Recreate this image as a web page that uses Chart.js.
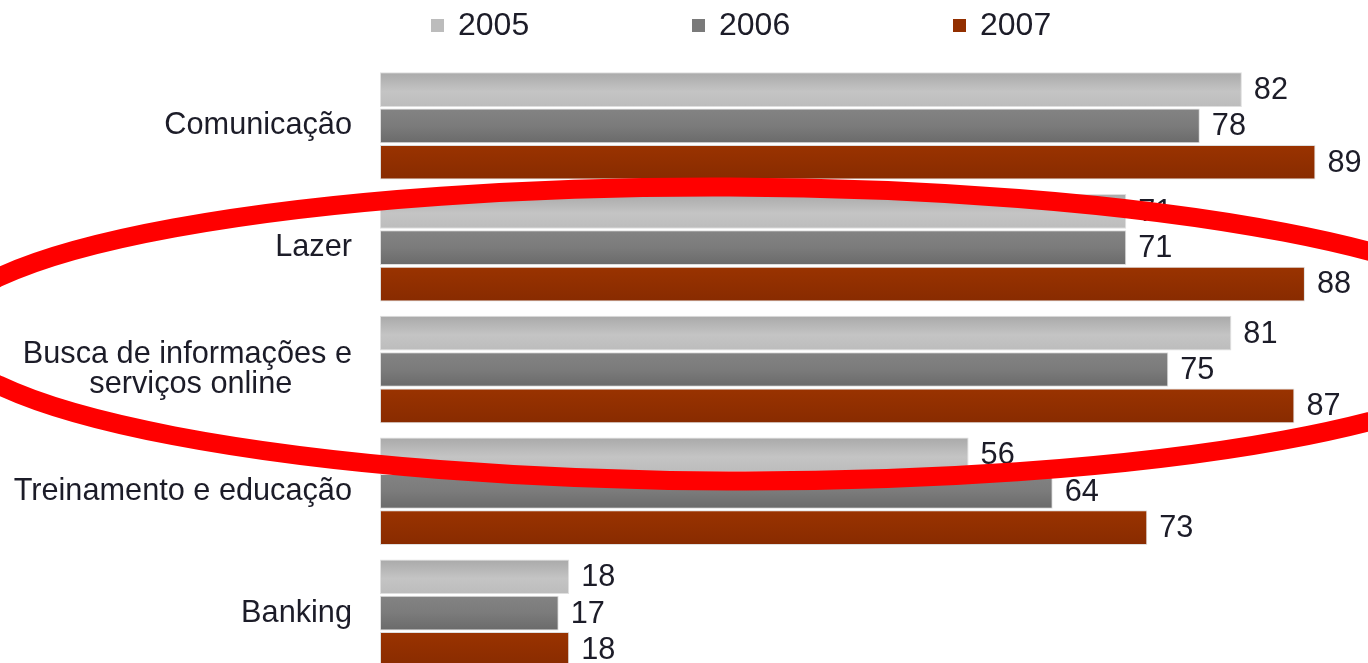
<!DOCTYPE html>
<html><head><meta charset="utf-8">
<style>html,body{margin:0;padding:0;background:#fff;overflow:hidden}canvas{display:block}</style>
<script src="https://cdn.jsdelivr.net/npm/chart.js@4.4.1/dist/chart.umd.min.js"></script>
</head><body><canvas id="c" width="1368" height="718" style="width:1368px;height:718px"></canvas>
<script>
const categories = ['Comunicação', 'Lazer', ['Busca de informações e', 'serviços online       '], 'Treinamento e educação', 'Banking'];
const seriesNames = ['2005', '2006', '2007'];
const values2005 = [82, 71, 81, 56, 18];
const values2006 = [78, 71, 75, 64, 17];
const values2007 = [89, 88, 87, 73, 18];

const FONT = '"Liberation Sans", Arial, Helvetica, sans-serif';
const baseColors = ['#bcbcbc', '#7a7a7a', '#922f00'];
const gradientStops = [
  [[0, '#a9a9a9'], [0.55, '#c4c4c4'], [1, '#bcbcbc']],
  [[0, '#838383'], [0.5, '#7b7b7b'], [1, '#6a6a6a']],
  [[0, '#9a3300'], [1, '#882b00']]
];
const CAT_PCT = 0.895, BAR_PCT = 0.955;

function barFill(ctx) {
  const i = ctx.datasetIndex;
  if (ctx.type !== 'data') return baseColors[i];
  const y = ctx.chart.scales && ctx.chart.scales.y;
  if (!y) return baseColors[i];
  const band = Math.abs(y.getPixelForValue(1) - y.getPixelForValue(0));
  const slot = band * CAT_PCT / 3;
  const thick = slot * BAR_PCT;
  const c = y.getPixelForValue(ctx.dataIndex) + (i - 1) * slot;
  if (!isFinite(c) || !isFinite(thick) || thick <= 0) return baseColors[i];
  const g = ctx.chart.ctx.createLinearGradient(0, c - thick / 2, 0, c + thick / 2);
  gradientStops[i].forEach(s => g.addColorStop(s[0], s[1]));
  return g;
}

const valueLabels = {
  id: 'valueLabels',
  afterDatasetsDraw(chart) {
    const ctx = chart.ctx;
    ctx.save();
    ctx.font = '30.7px ' + FONT;
    ctx.fillStyle = '#1c1c28';
    ctx.textAlign = 'left';
    ctx.textBaseline = 'middle';
    chart.data.datasets.forEach((ds, i) => {
      chart.getDatasetMeta(i).data.forEach((bar, j) => {
        ctx.fillText(String(ds.data[j]), bar.x + 12, bar.y + 1);
      });
    });
    ctx.restore();
  }
};

const topLegend = {
  id: 'topLegend',
  afterDraw(chart) {
    const ctx = chart.ctx;
    ctx.save();
    ctx.font = '32px ' + FONT;
    ctx.textAlign = 'left';
    ctx.textBaseline = 'middle';
    chart.data.datasets.forEach((ds, i) => {
      const x = 431 + i * 261;
      ctx.fillStyle = baseColors[i];
      ctx.fillRect(x, 19, 13, 13);
      ctx.fillStyle = '#1c1c28';
      ctx.fillText(ds.label, x + 27, 26);
    });
    ctx.restore();
  }
};

const redEllipse = {
  id: 'redEllipse',
  afterDraw(chart) {
    const ctx = chart.ctx;
    ctx.save();
    ctx.beginPath();
    ctx.ellipse(729, 334, 785, 147, 0.004, 0, Math.PI * 2);
    ctx.lineWidth = 19;
    ctx.strokeStyle = '#ff0000';
    ctx.stroke();
    ctx.restore();
  }
};

const seriesValues = [values2005, values2006, values2007];

new Chart(document.getElementById('c'), {
  type: 'bar',
  data: {
    labels: categories,
    datasets: seriesNames.map((name, i) => ({
      label: name,
      data: seriesValues[i],
      backgroundColor: barFill,
      borderColor: 'rgba(215,215,215,0.8)',
      borderWidth: 1,
      borderSkipped: false,
      categoryPercentage: CAT_PCT,
      barPercentage: BAR_PCT
    }))
  },
  options: {
    indexAxis: 'y',
    responsive: false,
    maintainAspectRatio: false,
    animation: false,
    events: [],
    layout: { padding: { top: 65, bottom: 44, left: 0, right: 0 } },
    plugins: { legend: { display: false }, tooltip: { enabled: false } },
    scales: {
      x: { display: false, min: 0, max: 94 },
      y: {
        position: 'left',
        grid: { display: false, drawTicks: false },
        border: { display: false },
        ticks: {
          color: '#1c1c28',
          padding: 28,
          font: { family: FONT, size: 30.7, lineHeight: 1.0 },
          crossAlign: 'near'
        },
        afterFit(scale) { scale.width = 380; }
      }
    }
  },
  plugins: [valueLabels, topLegend, redEllipse]
});
</script>
</body></html>
